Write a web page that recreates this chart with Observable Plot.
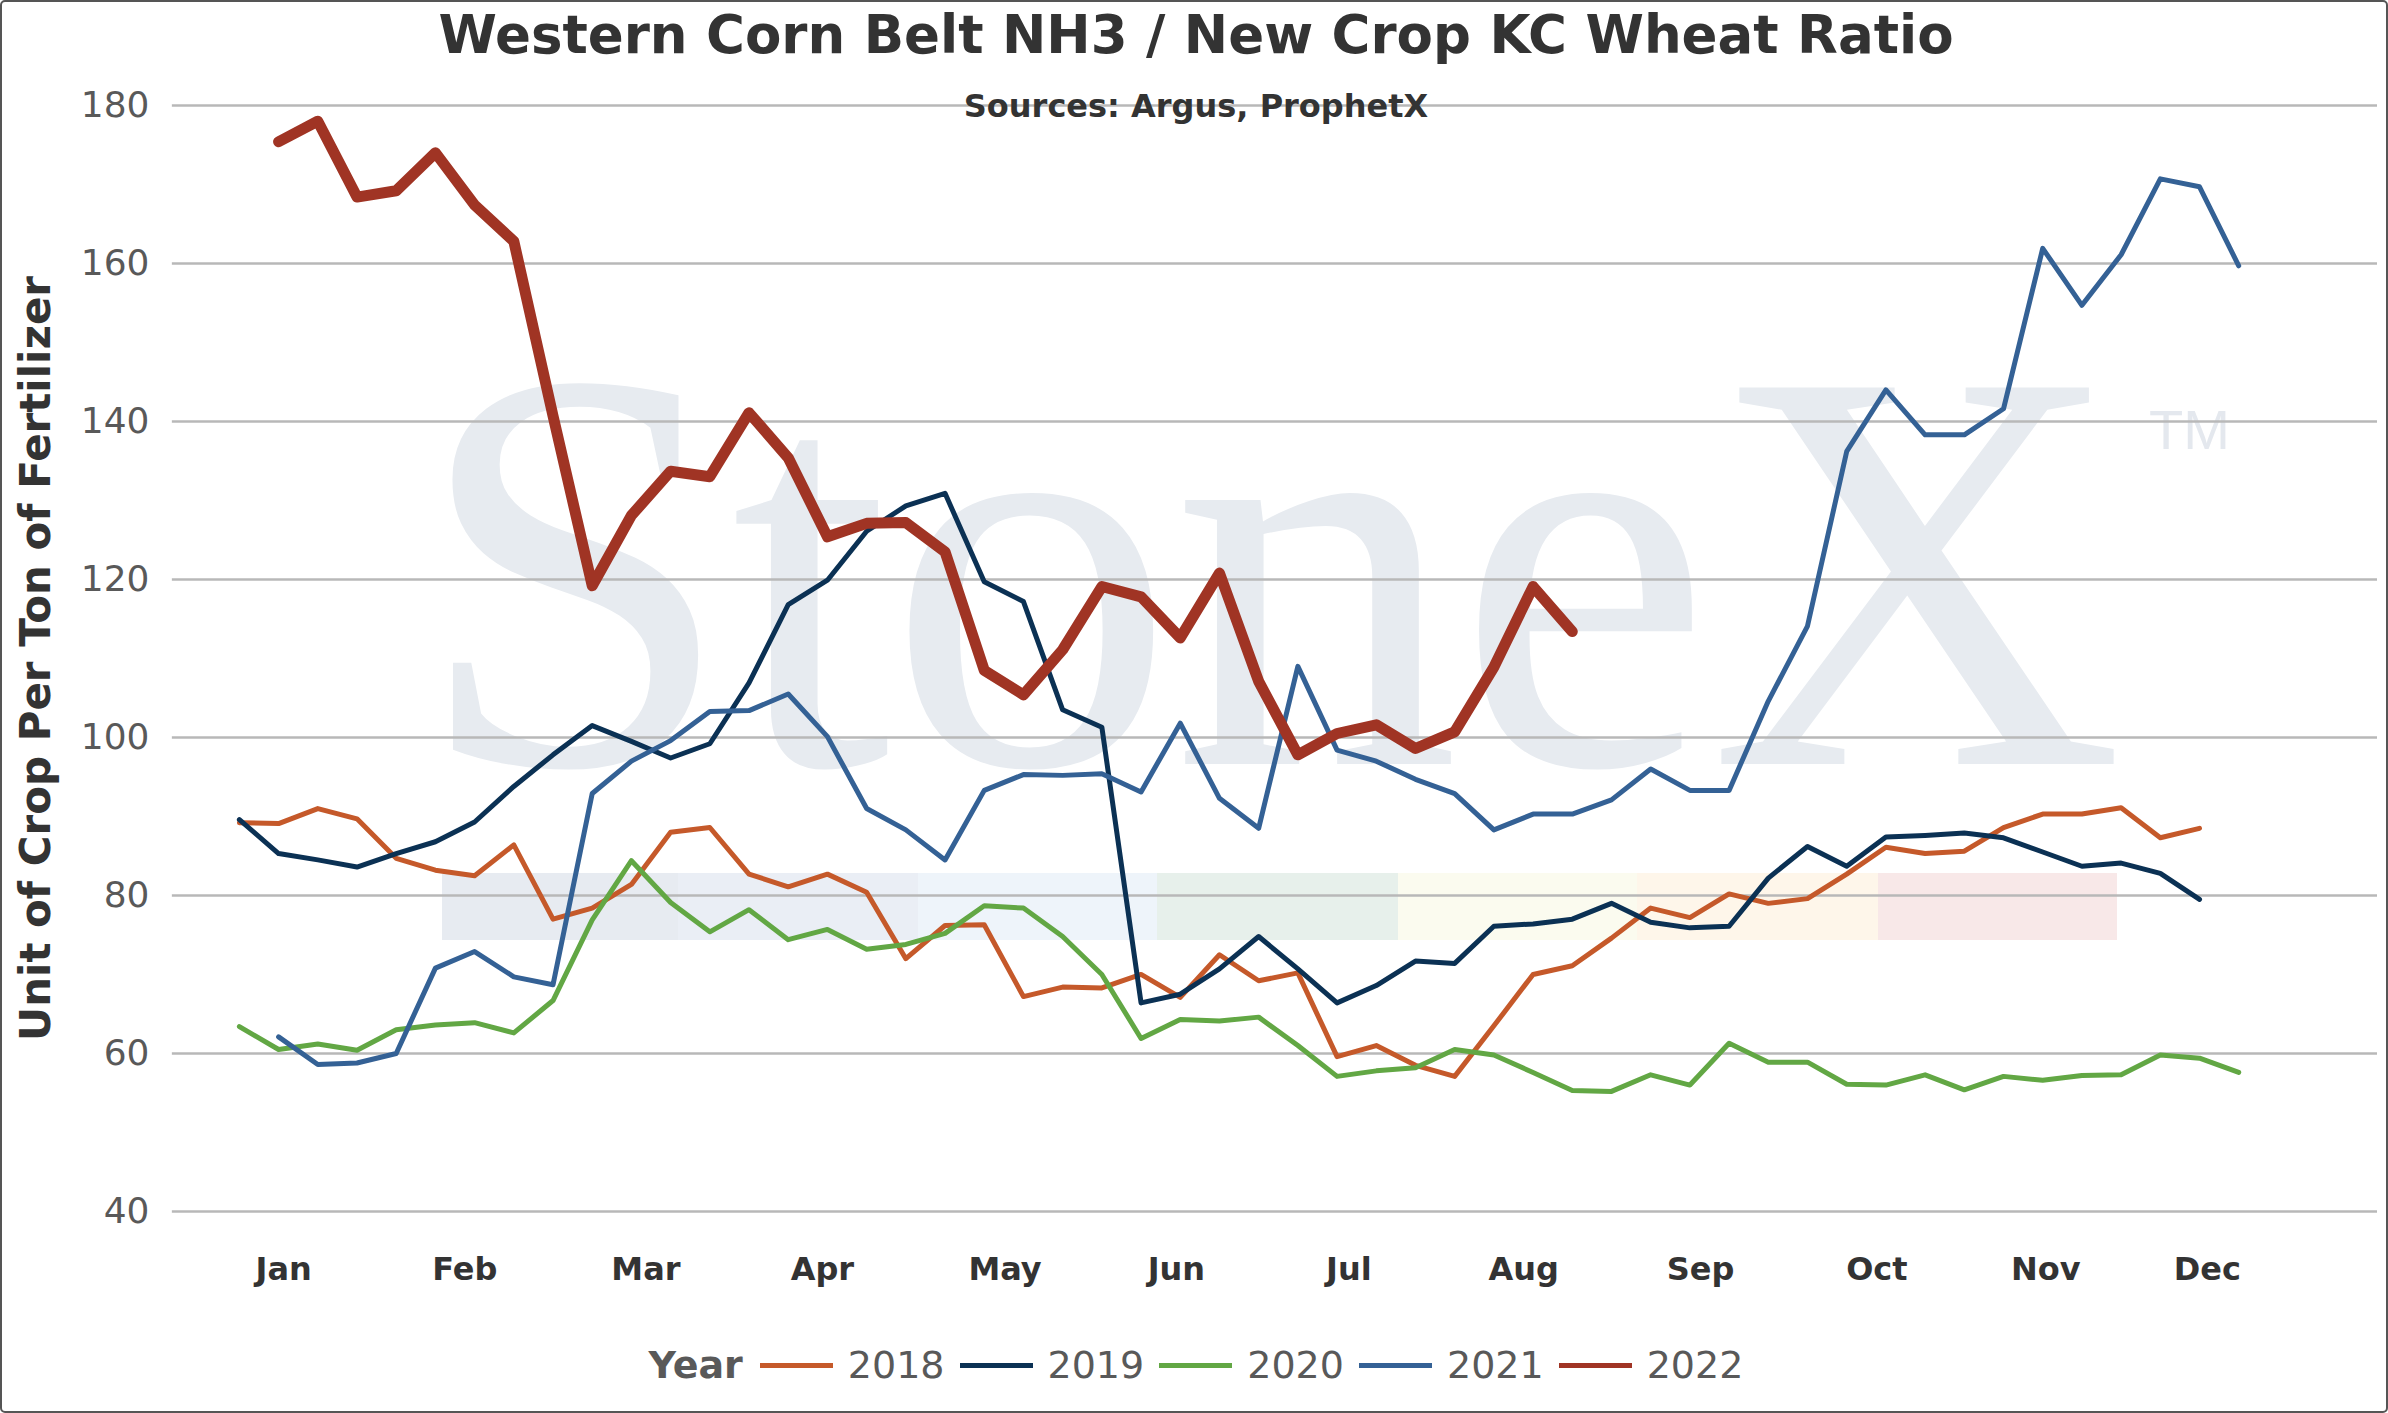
<!DOCTYPE html>
<html>
<head>
<meta charset="utf-8">
<script src="https://cdn.jsdelivr.net/npm/d3@7"></script>
<script src="https://cdn.jsdelivr.net/npm/@observablehq/plot@0.6"></script>
<style>
  html, body { margin: 0; padding: 0; background: #fff; }
  #wrap { position: relative; width: 2388px; height: 1413px; background: #fff; overflow: hidden;
          box-sizing: border-box; border: 2px solid #555; border-radius: 5px; font-family: "DejaVu Sans", Verdana, sans-serif; }
  .wm { position: absolute; }
  #chart { position: absolute; left: -2px; top: -2px; }
  #title { position: absolute; left: 0; width: 2388px; text-align: center; top: 3px; font-size: 53px; font-weight: bold; color: #333; line-height: 60px; }
  #subtitle { position: absolute; left: 0; width: 2388px; text-align: center; top: 84px; font-size: 32px; font-weight: bold; color: #333; line-height: 40px; }
  #legend { position: absolute; left: 0; width: 2388px; top: 1333px; height: 60px; display: flex; justify-content: center; align-items: center; gap: 15px; font-size: 38px; color: #595959; }
  #legend .ttl { font-weight: bold; margin-right: 2px; }
  #legend .sw { width: 73px; height: 5px; }
</style>
</head>
<body>
<div id="wrap">
  <div class="wm" style="left:412px; top:268px; font-family:'Liberation Serif','DejaVu Serif',serif; font-size:575px; line-height:600px; color:#E7EBF0; letter-spacing:-3px;">StoneX</div>
  <div class="wm" style="left:2147px; top:398px; font-family:'Liberation Sans',sans-serif; font-size:56px; line-height:60px; color:#E4E8EE;">TM</div>
  <div id="bars"></div>
  <div id="chart"></div>
  <div id="title">Western Corn Belt NH3 / New Crop KC Wheat Ratio</div>
  <div id="subtitle">Sources: Argus, ProphetX</div>
  <div id="legend"></div>
</div>
<script>
// ---- data ----
const years = ["2018", "2019", "2020", "2021", "2022"];
const yearColors = ["#C5592A", "#0B3154", "#62A744", "#346195", "#A03424"];
const firstWeek = [0, 0, 0, 1, 1];

const v2018 = [89.2, 89.1, 91.0, 89.7, 84.7, 83.2, 82.5, 86.4, 77.0, 78.4, 81.4, 88.0, 88.6, 82.7, 81.1, 82.7, 80.4, 72.0, 76.2, 76.3, 67.2, 68.4, 68.3, 70.0, 67.1, 72.5, 69.2, 70.2, 59.6, 61.0, 58.5, 57.1, 63.5, 70.0, 71.1, 74.6, 78.4, 77.2, 80.2, 79.0, 79.6, 82.7, 86.1, 85.3, 85.6, 88.6, 90.3, 90.3, 91.1, 87.3, 88.5];
const v2019 = [89.6, 85.3, 84.5, 83.6, 85.3, 86.8, 89.3, 93.8, 97.8, 101.5, 99.5, 97.4, 99.2, 106.9, 116.8, 119.9, 126.1, 129.3, 130.9, 119.7, 117.2, 103.5, 101.3, 66.4, 67.5, 70.7, 74.8, 70.7, 66.4, 68.6, 71.7, 71.4, 76.1, 76.4, 77.0, 79.0, 76.6, 75.9, 76.1, 82.2, 86.2, 83.7, 87.4, 87.6, 87.9, 87.3, 85.5, 83.7, 84.1, 82.8, 79.5];
const v2020 = [63.4, 60.5, 61.2, 60.4, 63.0, 63.6, 63.9, 62.6, 66.7, 76.9, 84.4, 79.1, 75.4, 78.2, 74.4, 75.7, 73.2, 73.8, 75.2, 78.7, 78.4, 74.8, 70.0, 61.9, 64.3, 64.1, 64.6, 61.0, 57.1, 57.8, 58.2, 60.5, 59.8, 57.6, 55.3, 55.2, 57.3, 56.0, 61.3, 58.9, 58.9, 56.1, 56.0, 57.3, 55.4, 57.1, 56.6, 57.2, 57.3, 59.8, 59.4, 57.6];
const v2021 = [62.1, 58.6, 58.8, 60.0, 70.8, 72.9, 69.7, 68.7, 92.9, 97.0, 99.6, 103.3, 103.4, 105.5, 100.1, 91.0, 88.3, 84.5, 93.3, 95.3, 95.2, 95.4, 93.1, 101.8, 92.3, 88.5, 109.0, 98.4, 97.0, 94.7, 92.9, 88.3, 90.3, 90.3, 92.1, 96.0, 93.3, 93.3, 104.6, 114.1, 136.2, 144.0, 138.3, 138.3, 141.6, 161.9, 154.7, 161.1, 170.7, 169.7, 159.7];
const v2022 = [175.4, 178.0, 168.4, 169.2, 174.0, 167.4, 162.8, 140.7, 119.2, 128.1, 133.7, 133.0, 141.1, 135.4, 125.4, 127.1, 127.2, 123.5, 108.5, 105.4, 111.1, 119.1, 117.8, 112.6, 120.8, 107.1, 97.8, 100.5, 101.6, 98.6, 100.7, 108.9, 119.1, 113.4];
const seriesValues = [v2018, v2019, v2020, v2021, v2022];

const monthLabels = ["Jan", "Feb", "Mar", "Apr", "May", "Jun", "Jul", "Aug", "Sep", "Oct", "Nov", "Dec"];
const monthWeeks = [1.13, 5.75, 10.37, 14.87, 19.53, 23.9, 28.3, 32.76, 37.27, 41.77, 46.08, 50.2];
const yTicks = [40, 60, 80, 100, 120, 140, 160, 180];

// ---- watermark logo bands (decoration) ----
const bandColors = ["#E7EBF1", "#EAEEF5", "#EEF4FA", "#E7F0EB", "#FBFBEF", "#FEF6EA", "#F8E8E8"];
const bandEdges = [442, 678, 918, 1157, 1398, 1637, 1878, 2117];
const bars = document.getElementById("bars");
bandColors.forEach((c, i) => {
  const d = document.createElement("div");
  d.className = "wm";
  d.style.cssText = `left:${bandEdges[i] - 2}px;top:871px;width:${bandEdges[i + 1] - bandEdges[i]}px;height:67px;background:${c};`;
  bars.appendChild(d);
});

// ---- build table ----
const rows = [];
years.forEach((y, j) => {
  seriesValues[j].forEach((v, i) => rows.push({ year: y, week: firstWeek[j] + i, value: v }));
});

const lineMarks = years.map((y, j) =>
  Plot.line(rows.filter(r => r.year === y), {
    x: "week", y: "value",
    stroke: yearColors[j],
    strokeWidth: y === "2022" ? 11 : 5,
    strokeLinecap: "round", strokeLinejoin: "round"
  })
);

const chart = Plot.plot({
  width: 2388,
  height: 1413,
  marginLeft: 172,
  marginRight: 9,
  marginTop: 105,
  marginBottom: 201,
  style: { background: "transparent", fontFamily: "'DejaVu Sans', Verdana, sans-serif", overflow: "visible" },
  x: { domain: [-1.71, 54.54], label: null },
  y: { domain: [40, 180], label: null },
  marks: [
    Plot.gridY(yTicks, { stroke: "#B8B8B8", strokeOpacity: 1, strokeWidth: 2.5 }),
    Plot.axisY(yTicks, { tickSize: 0, tickPadding: 23, fontSize: 36, fill: "#595959", label: null }),
    Plot.axisX(monthWeeks, {
      tickSize: 0, tickPadding: 46, fontSize: 32, fontWeight: "bold", fill: "#333",
      tickFormat: d => monthLabels[monthWeeks.indexOf(d)], label: null
    }),
    Plot.text(["Unit of Crop Per Ton of Fertilizer"], {
      frameAnchor: "left", textAnchor: "middle", rotate: -90, dx: -136, fontSize: 42, fontWeight: "bold", fill: "#333"
    }),
    ...lineMarks
  ]
});
document.getElementById("chart").appendChild(chart);

// ---- legend ----
const legend = document.getElementById("legend");
const t = document.createElement("span");
t.className = "ttl"; t.textContent = "Year";
legend.appendChild(t);
years.forEach((y, j) => {
  const sw = document.createElement("span");
  sw.className = "sw"; sw.style.background = yearColors[j];
  legend.appendChild(sw);
  const lb = document.createElement("span");
  lb.textContent = y;
  legend.appendChild(lb);
});
</script>
</body>
</html>
